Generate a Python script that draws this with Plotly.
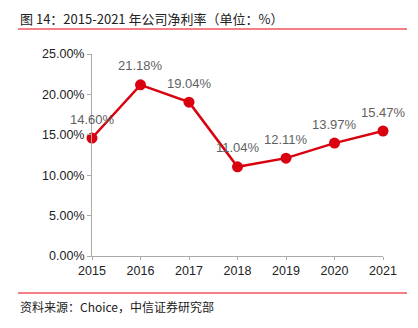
import plotly.graph_objects as go

years = [2015, 2016, 2017, 2018, 2019, 2020, 2021]
net_margin = [14.60, 21.18, 19.04, 11.04, 12.11, 13.97, 15.47]
labels = [f"{v:.2f}%" for v in net_margin]
y_ticks = [0, 5, 10, 15, 20, 25]
y_tick_text = [f"{v:.2f}%" for v in y_ticks]

W, H = 418, 328
L, R, T, B = 92, 35, 54, 72
pw, ph = W - L - R, H - T - B

def px(x):
    return (x - L) / pw

def py(y):
    return (H - B - y) / ph

red = "#d9000f"

fig = go.Figure()
fig.add_trace(go.Scatter(
    x=years, y=net_margin, mode="lines+markers",
    line=dict(color=red, width=2.5),
    marker=dict(color=red, size=11),
    cliponaxis=False, showlegend=False,
))

label_annots = [
    dict(x=x, y=y, xref="x", yref="y", text=t, showarrow=False,
         xanchor="center", yanchor="middle", yshift=19,
         font=dict(family="Liberation Sans, Arial", size=13, color="#5f5f5f"))
    for x, y, t in zip(years, net_margin, labels)
]

fig.update_layout(
    width=W, height=H,
    margin=dict(l=L, r=R, t=T, b=B),
    paper_bgcolor="white", plot_bgcolor="white",
    font=dict(family="Liberation Sans, Arial", size=12, color="#222222"),
    xaxis=dict(range=[2015, 2021], tickvals=years, ticktext=[str(y) for y in years],
               showgrid=False, zeroline=False, showline=True, linecolor="#aaaaaa",
               ticks="outside", ticklen=3, tickcolor="#aaaaaa",
               tickfont=dict(size=12.5, color="#222222")),
    yaxis=dict(range=[0, 25], tickvals=y_ticks, ticktext=y_tick_text,
               showgrid=False, zeroline=False, showline=True, linecolor="#aaaaaa",
               ticks="outside", ticklen=4, tickcolor="#aaaaaa",
               tickfont=dict(size=12.5, color="#222222")),
    shapes=[
        dict(type="line", xref="paper", yref="paper", x0=px(18), x1=px(407),
             y0=py(29), y1=py(29), line=dict(color="#e8000b", width=1)),
        dict(type="line", xref="paper", yref="paper", x0=px(18), x1=px(407),
             y0=py(293), y1=py(293), line=dict(color="#e8000b", width=1)),
    ],
    annotations=label_annots + [
        dict(xref="paper", yref="paper", x=px(18), y=py(18), xanchor="left", yanchor="middle",
             text="图 14：2015-2021 年公司净利率（单位：%）", showarrow=False,
             font=dict(family="Noto Sans CJK SC", size=13, color="#222222")),
        dict(xref="paper", yref="paper", x=px(18), y=py(306), xanchor="left", yanchor="middle",
             text="资料来源：Choice，中信证券研究部", showarrow=False,
             font=dict(family="Noto Sans CJK SC", size=12, color="#222222")),
    ],
)

fig.write_html("out.html")
